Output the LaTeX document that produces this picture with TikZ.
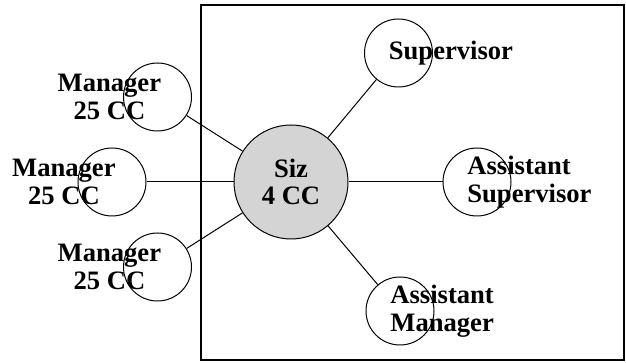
\documentclass[tikz,border=0pt]{standalone}
\usepackage{fontspec}
\setmainfont{Liberation Serif}
\usetikzlibrary{positioning}

\begin{document}
\begin{tikzpicture}[x=0.5pt,y=0.5pt,
  role/.style={circle,draw=black,line width=0.5pt,minimum size=34pt,inner sep=0pt},
  hub/.style={circle,draw=black,line width=0.5pt,fill=black!17,minimum size=57pt,inner sep=0pt},
  lbl/.style={font=\fontsize{13.3}{13.8}\selectfont\bfseries,inner sep=0pt}]
\useasboundingbox (0,0) rectangle (626,363);
\draw[line width=1pt] (201,3) rectangle (624,358);
\node[hub,align=center,font=\fontsize{13.3}{13.8}\selectfont\bfseries] (siz) at (291,181) {Siz\\4 CC};
\node[role] (m1) at (157.5,266) {};
\node[role] (m2) at (112,181) {};
\node[role] (m3) at (157.5,96) {};
\node[role] (sup) at (398.5,310) {};
\node[role] (asup) at (477,181) {};
\node[role] (aman) at (400,52) {};
\foreach \p in {m1,m2,m3,sup,asup,aman}
	\draw[line width=0.5pt] (siz) -- (\p);
\foreach \p in {m1,m2,m3}
	\node[lbl,align=center,left=-2pt of \p.center] {Manager\\25 CC};
\node[lbl,right=-5pt of sup.center] (suptxt) {Supervisor};
\node[lbl,align=left,right=-5pt of asup.center] (asuptxt) {Assistant\\Supervisor};
\node[lbl,align=left,right=-5pt of aman.center] (amantxt) {Assistant\\Manager};
\end{tikzpicture}
\end{document}
